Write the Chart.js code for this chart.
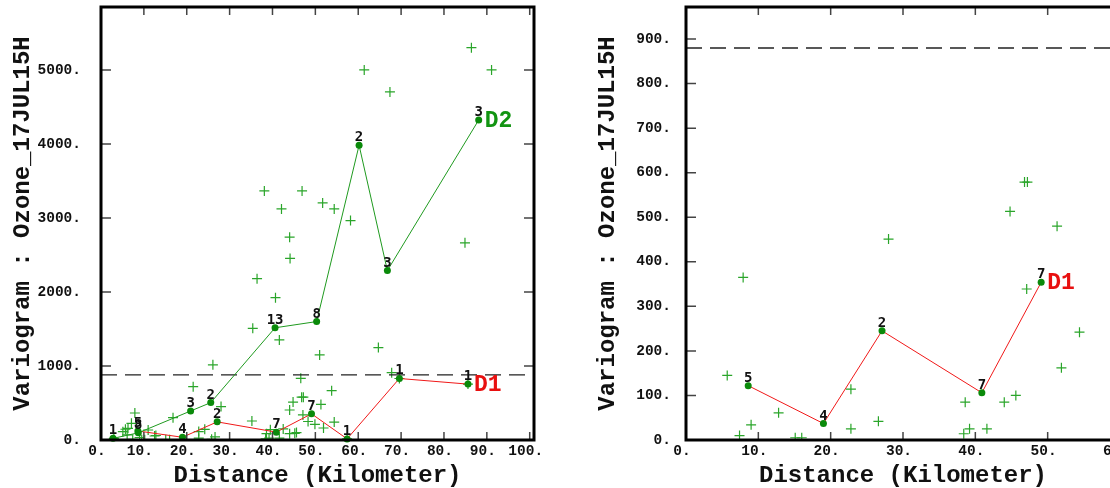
<!DOCTYPE html>
<html>
<head>
<meta charset="utf-8">
<script src="https://cdn.jsdelivr.net/npm/chart.js@4.4.1/dist/chart.umd.min.js"></script>
<style>
  html, body { margin: 0; padding: 0; background: #fff; overflow: hidden; width: 1110px; height: 488px; }
  #left { position: absolute; left: 0; top: 0; }
  #right { position: absolute; left: 585px; top: 0; }
</style>
</head>
<body>
<canvas id="left" width="560" height="488"></canvas>
<canvas id="right" width="560" height="488"></canvas>
<script>
// lag means, direction D2 (left panel)
const d2Dist  = [2.8, 8.7, 20.9, 25.6, 40.6, 50.3, 60.2, 66.8, 88.1]
const d2Gamma = [22, 97, 392, 505, 1516, 1600, 3982, 2289, 4323]
const d2Pairs = [1, 8, 3, 2, 13, 8, 2, 3, 3]

// lag means, direction D1 (left panel)
const d1Dist  = [8.6, 19.0, 27.1, 40.9, 49.1, 57.4, 69.6, 85.6]
const d1Gamma = [122, 37, 245, 106, 354, 15, 831, 755]
const d1Pairs = [5, 4, 2, 7, 7, 1, 1, 1]

// lag means, direction D1 (right panel, shorter max distance)
const d1sDist  = [8.6, 19.0, 27.1, 40.9, 49.1]
const d1sGamma = [122, 37, 245, 106, 354]
const d1sPairs = [5, 4, 2, 7, 7]

// variogram cloud, D1 pairs up to ~55 km
const c1Dist = [5.7, 7.9, 9.0, 7.4, 12.8, 15.1, 16.0, 22.8, 22.8, 26.6, 28.0, 38.6, 38.4, 39.2,
                41.6, 44.0, 45.6, 44.8, 46.8, 47.2, 47.1, 51.3, 51.9, 54.4]
const c1Val  = [145, 365, 34, 10, 61, 5, 5, 114, 25, 42, 451, 85, 14, 25,
                25, 85, 100, 513, 579, 579, 339, 480, 162, 242]
// D1 pairs further away
const c1FarDist = [57.4, 69.6, 85.6]
const c1FarVal  = [15, 831, 755]

// variogram cloud, D2 pairs
const c2Dist = [3.0, 5.1, 6.1, 6.3, 7.1, 9.5, 10.2, 11.0, 12.5, 16.8, 21.5, 24.2, 25.8, 26.1,
                35.2, 35.4, 36.4, 38.1, 39.5, 40.7, 41.6, 42.1, 42.5, 44.0, 44.0, 44.1, 45.2,
                46.6, 46.9, 48.3, 49.9, 51.0, 51.7, 53.8, 54.4, 58.2, 61.4, 64.7, 67.4, 67.8,
                84.9, 86.4, 91.1]
const c2Val  = [22, 113, 68, 158, 225, 5, 3, 135, 54, 302, 721, 144, 10, 1015,
                257, 1509, 2179, 3365, 140, 1923, 1352, 3122, 150, 405, 2740, 2453, 90,
                833, 3365, 250, 212, 1150, 3203, 667, 3122, 2965, 5000, 1249, 4703, 910,
                2664, 5301, 5000]

// tick values
const xTicksLeft  = [0, 10, 20, 30, 40, 50, 60, 70, 80, 90, 100]
const yTicksLeft  = [0, 1000, 2000, 3000, 4000, 5000]
const xTicksRight = [0, 10, 20, 30, 40, 50, 60]
const yTicksRight = [0, 100, 200, 300, 400, 500, 600, 700, 800, 900]

const sill = 880
const yTitle = 'Variogram : Ozone_17JUL15H'
const xTitle = 'Distance (Kilometer)'

Chart.defaults.font.family = '"Liberation Mono", "Courier New", monospace'
Chart.defaults.color = '#111'

const pts = (xs, ys) => xs.map((x, i) => ({ x: x, y: ys[i] }))

// inward ticks on all four sides + heavy frame
const frameTicks = {
  id: 'frameTicks',
  afterDraw(chart) {
    const { ctx, chartArea: a, scales: { x, y } } = chart
    ctx.save()
    ctx.strokeStyle = '#444'
    ctx.lineWidth = 1.5
    ctx.beginPath()
    x.ticks.forEach(t => {
      if (t.value <= x.min) return
      const px = x.getPixelForValue(t.value)
      ctx.moveTo(px, a.bottom); ctx.lineTo(px, a.bottom - 8)
      ctx.moveTo(px, a.top); ctx.lineTo(px, a.top + 8)
    })
    y.ticks.forEach(t => {
      if (t.value <= y.min) return
      const py = y.getPixelForValue(t.value)
      ctx.moveTo(a.left, py); ctx.lineTo(a.left + 10, py)
      ctx.moveTo(a.right, py); ctx.lineTo(a.right - 10, py)
    })
    ctx.stroke()
    ctx.strokeStyle = '#000'
    ctx.lineWidth = 3
    ctx.strokeRect(a.left, a.top, a.right - a.left, a.bottom - a.top)
    ctx.restore()
  }
}

// pair counts above each lag point, direction tag after the last one
const pairLabels = {
  id: 'pairLabels',
  afterDatasetsDraw(chart) {
    const ctx = chart.ctx
    chart.data.datasets.forEach((ds, i) => {
      if (!ds.pairs) return
      const els = chart.getDatasetMeta(i).data
      ctx.save()
      ctx.font = 'bold 14px "DejaVu Sans Mono"'
      ctx.fillStyle = '#111'
      ctx.textAlign = 'center'
      ctx.textBaseline = 'alphabetic'
      els.forEach((p, j) => ctx.fillText(String(ds.pairs[j]), p.x, p.y - 4))
      const last = els[els.length - 1]
      ctx.font = 'bold 23px "Liberation Mono"'
      ctx.fillStyle = ds.tagColor
      ctx.textAlign = 'left'
      ctx.textBaseline = 'middle'
      ctx.fillText(ds.tag, last.x + 6, last.y + 1)
      ctx.restore()
    })
  }
}

function lagSet(xs, ys, pairs, tag, lineColor, tagColor) {
  return {
    type: 'scatter', data: pts(xs, ys), showLine: true, pairs: pairs, tag: tag, tagColor: tagColor,
    borderColor: lineColor, borderWidth: 1, pointRadius: 3.5, pointBorderWidth: 0,
    pointBackgroundColor: '#0a8a0a', clip: false, order: 1
  }
}

function cloudSet(xs, ys) {
  return {
    type: 'scatter', data: pts(xs, ys), pointStyle: 'cross', pointRadius: 5,
    borderColor: '#2aa52a', borderWidth: 1.2, order: 4
  }
}

function sillSet(xMax) {
  return {
    type: 'line', data: [{ x: 0, y: sill }, { x: xMax, y: sill }], pointRadius: 0,
    borderColor: '#222', borderWidth: 1.3, borderDash: [16, 8], order: 3
  }
}

function makeOptions(xMax, yMax, xTicks, yTicks, tickPad, padRight) {
  return {
    responsive: false,
    animation: false,
    layout: { padding: { top: 7, right: padRight, left: 0, bottom: 0 } },
    plugins: { legend: { display: false }, tooltip: { enabled: false } },
    scales: {
      x: {
        type: 'linear', min: 0, max: xMax,
        grid: { display: false, drawTicks: false }, border: { display: false },
        afterBuildTicks: s => { s.ticks = xTicks.map(v => ({ value: v })) },
        afterFit: s => { s.height = 48 },
        ticks: { padding: 3, labelOffset: -4, maxRotation: 0, autoSkip: false,
                 font: { size: 14.5, weight: 'bold' }, callback: v => v + '.' },
        title: { display: true, text: xTitle, font: { size: 24, weight: 'bold', lineHeight: 1 },
                 padding: { top: 0, bottom: 0 } }
      },
      y: {
        type: 'linear', min: 0, max: yMax,
        grid: { display: false, drawTicks: false }, border: { display: false },
        afterBuildTicks: s => { s.ticks = yTicks.map(v => ({ value: v })) },
        afterFit: s => { s.width = 101; s.paddingTop = 0; s.paddingBottom = 0 },
        ticks: { padding: tickPad, autoSkip: false, font: { size: 14.5, weight: 'bold' },
                 callback: v => v + '.' },
        title: { display: true, text: yTitle, font: { size: 24, weight: 'bold', lineHeight: 1 },
                 padding: { top: 11, bottom: 0 } }
      }
    }
  }
}

new Chart(document.getElementById('left'), {
  type: 'scatter',
  data: {
    datasets: [
      lagSet(d2Dist, d2Gamma, d2Pairs, 'D2', '#1f9a1f', '#129412'),
      lagSet(d1Dist, d1Gamma, d1Pairs, 'D1', '#f01818', '#e81010'),
      sillSet(101),
      cloudSet(c1Dist, c1Val),
      cloudSet(c1FarDist, c1FarVal),
      cloudSet(c2Dist, c2Val)
    ]
  },
  options: makeOptions(101, 5850, xTicksLeft, yTicksLeft, 20, 26),
  plugins: [frameTicks, pairLabels]
})

new Chart(document.getElementById('right'), {
  type: 'scatter',
  data: {
    datasets: [
      lagSet(d1sDist, d1sGamma, d1sPairs, 'D1', '#f01818', '#e81010'),
      sillSet(60),
      cloudSet(c1Dist, c1Val)
    ]
  },
  options: makeOptions(60, 972, xTicksRight, yTicksRight, 15, 25),
  plugins: [frameTicks, pairLabels]
})
</script>
</body>
</html>
